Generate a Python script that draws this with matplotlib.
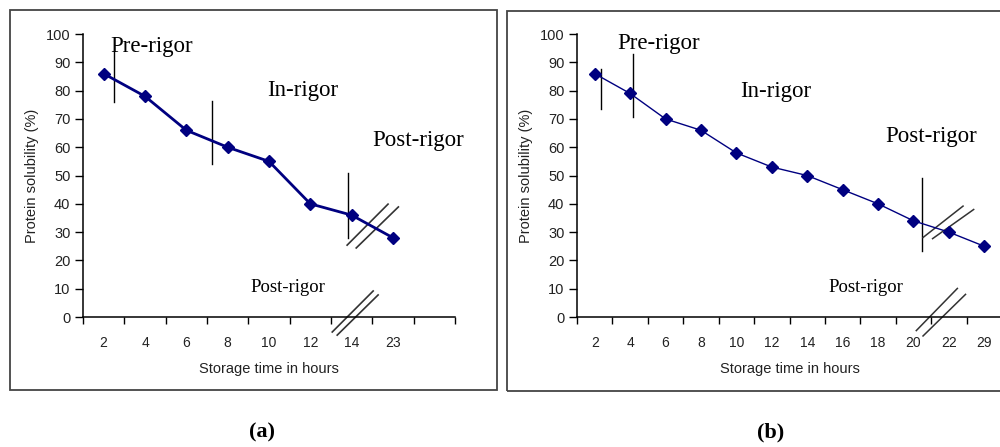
import numpy as np
import matplotlib.pyplot as plt
from matplotlib.patches import Rectangle

# panel (a)
horasA = ["2", "4", "6", "8", "10", "12", "14", "23"]
solubA = [86, 78, 66, 60, 55, 40, 36, 28]

# panel (b)
horasB = ["2", "4", "6", "8", "10", "12", "14", "16", "18", "20", "22", "29"]
solubB = [86, 79, 70, 66, 58, 53, 50, 45, 40, 34, 30, 25]

yticks = [0, 10, 20, 30, 40, 50, 60, 70, 80, 90, 100]

azul = "#000080"
sans = "Liberation Sans"
serif = "Liberation Serif"

fig = plt.figure(figsize=(10, 4.47), dpi=100)

# marcos de cada panel
fig.patches.append(Rectangle((0.010, 0.1275), 0.487, 0.850, transform=fig.transFigure,
                             fill=False, edgecolor="#444444", lw=1.3))
fig.patches.append(Rectangle((0.507, 0.1253), 0.6, 0.850, transform=fig.transFigure,
                             fill=False, edgecolor="#444444", lw=1.3))


def panel(ax, horas, solub, lw, extra):
    n = len(horas)
    x = np.arange(n)
    ax.plot(x, solub, color=azul, lw=lw, marker="D", markersize=6.5, zorder=3)
    ax.set_xlim(-0.5, n - 0.5 + extra)
    ax.set_ylim(0, 100)
    ax.set_yticks(yticks)
    ax.set_xticks(x)
    ax.set_xticklabels(horas)
    ax.set_xticks(np.arange(-0.5, n + extra, 1), minor=True)
    ax.tick_params(axis="x", which="major", length=0, pad=14, labelsize=10)
    ax.tick_params(axis="x", which="minor", length=5, direction="out", width=1)
    ax.tick_params(axis="y", length=6, direction="out", width=1, labelsize=10.5, pad=3)
    for lab in ax.get_xticklabels() + ax.get_yticklabels():
        lab.set_family(sans)
        lab.set_color("#222222")
    ax.spines["top"].set_visible(False)
    ax.spines["right"].set_visible(False)
    ax.spines["left"].set_linewidth(1.1)
    ax.spines["bottom"].set_linewidth(1.1)
    ax.set_xlabel("Storage time in hours", family=sans, fontsize=10.5, color="#222222", labelpad=8)
    ax.set_ylabel("Protein solubility (%)", family=sans, fontsize=10.5, color="#222222", labelpad=5)
    ax.patch.set_alpha(0)


# ---------- (a)
ax1 = fig.add_axes([0.083, 0.2908, 0.372, 0.633])
panel(ax1, horasA, solubA, 2, 1)
ax1.plot([0.25, 0.25], [76, 94], color="black", lw=1)
ax1.plot([2.62, 2.62], [54, 76.5], color="black", lw=1)
ax1.plot([5.92, 5.92], [28, 51], color="black", lw=1)
ax1.plot([5.89, 6.88], [25.4, 39.9], color="#333333", lw=1.2)
ax1.plot([6.11, 7.13], [24.4, 38.9], color="#333333", lw=1.2)
ax1.plot([5.53, 6.52], [-5.3, 9.2], color="#333333", lw=1.2, clip_on=False)
ax1.plot([5.65, 6.64], [-6.4, 7.8], color="#333333", lw=1.2, clip_on=False)
ax1.text(0.15, 95.5, "Pre-rigor", family=serif, fontsize=16.5, va="center")
ax1.text(3.95, 80, "In-rigor", family=serif, fontsize=16.5, va="center")
ax1.text(6.49, 62.5, "Post-rigor", family=serif, fontsize=16.5, va="center")
ax1.text(3.56, 10.6, "Post-rigor", family=serif, fontsize=13.5, va="center")

# ---------- (b)
ax2 = fig.add_axes([0.577, 0.2908, 0.425, 0.633])
panel(ax2, horasB, solubB, 1, 0)
ax2.plot([0.18, 0.18], [73.6, 87.7], color="black", lw=1)
ax2.plot([1.08, 1.08], [70.6, 93], color="black", lw=1)
ax2.plot([9.24, 9.24], [23.3, 49], color="black", lw=1)
ax2.plot([9.27, 10.4], [28.1, 39.2], color="#333333", lw=1.1)
ax2.plot([9.54, 10.70], [27.7, 38.0], color="#333333", lw=1.1)
ax2.plot([9.08, 10.24], [-4.8, 10.1], color="#333333", lw=1.1, clip_on=False)
ax2.plot([9.27, 10.47], [-6.7, 8.0], color="#333333", lw=1.1, clip_on=False)
ax2.text(0.65, 96.5, "Pre-rigor", family=serif, fontsize=16.5, va="center")
ax2.text(4.1, 79.6, "In-rigor", family=serif, fontsize=16.5, va="center")
ax2.text(8.2, 63.7, "Post-rigor", family=serif, fontsize=16.5, va="center")
ax2.text(6.6, 10.6, "Post-rigor", family=serif, fontsize=13.5, va="center")

fig.text(0.262, 1 - 432 / 447, "(a)", family=serif, fontsize=16, fontweight="bold",
         ha="center", va="center")
fig.text(0.771, 1 - 432 / 447, "(b)", family=serif, fontsize=16, fontweight="bold",
         ha="center", va="center")

plt.savefig("out.png", dpi=100)
